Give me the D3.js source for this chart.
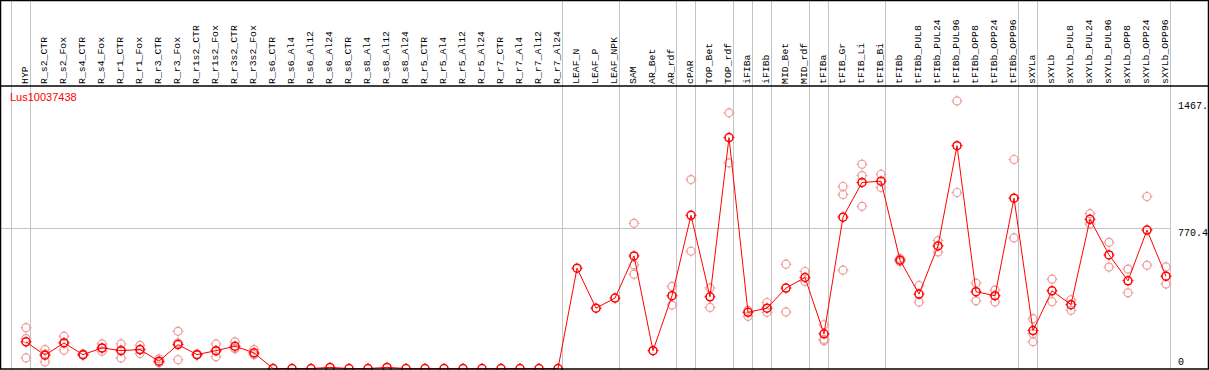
<!DOCTYPE html>
<html>
<head>
<meta charset="utf-8">
<script src="https://cdn.jsdelivr.net/npm/d3@7"></script>
<style>
  body { margin: 0; background: #fff; }
  svg { display: block; }
</style>
</head>
<body>
<div class="box"></div>
<script>
// sample names along the top
const samples = ["HYP", "R_s2_CTR", "R_s2_Fox", "R_s4_CTR", "R_s4_Fox", "R_r1_CTR", "R_r1_Fox",
  "R_r3_CTR", "R_r3_Fox", "R_r1s2_CTR", "R_r1s2_Fox", "R_r3s2_CTR", "R_r3s2_Fox",
  "R_s6_CTR", "R_s6_Al4", "R_s6_Al12", "R_s6_Al24", "R_s8_CTR", "R_s8_Al4", "R_s8_Al12", "R_s8_Al24",
  "R_r5_CTR", "R_r5_Al4", "R_r5_Al12", "R_r5_Al24", "R_r7_CTR", "R_r7_Al4", "R_r7_Al12", "R_r7_Al24",
  "LEAF_N", "LEAF_P", "LEAF_NPK", "SAM", "AR_Bet", "AR_rdf", "cPAR", "TOP_Bet", "TOP_rdf",
  "iFIBa", "iFIBb", "MID_Bet", "MID_rdf", "tFIBa", "tFIB_Gr", "tFIB_Li", "tFIB_Bi",
  "tFIBb", "tFIBb_PUL8", "tFIBb_PUL24", "tFIBb_PUL96", "tFIBb_OPP8", "tFIBb_OPP24", "tFIBb_OPP96",
  "sXYLa", "sXYLb", "sXYLb_PUL8", "sXYLb_PUL24", "sXYLb_PUL96", "sXYLb_OPP8", "sXYLb_OPP24", "sXYLb_OPP96"];

// mean expression per sample
const means = [146, 73, 140, 76, 113, 98, 104, 40, 131, 76, 98, 122, 86,
  0, 0, 0, 6, 0, 0, 6, 0, 0, 0, 0, 0, 0, 0, 0, 0,
  550, 331, 386, 617, 98, 399, 840, 393, 1266,
  308, 331, 441, 499, 190, 830, 1020, 1027,
  594, 408, 672, 1222, 421, 399, 934,
  208, 426, 350, 818, 623, 481, 759, 506];

// replicate values per sample
const reps = [[224, 164, 58], [104, 36, 79], [177, 100, 143], [80, 73, 75], [135, 95, 110],
  [135, 58, 102], [127, 82, 103], [53, 31, 36], [204, 48, 141], [79, 74, 76], [135, 64, 95],
  [146, 112, 108], [104, 76, 78],
  [], [], [], [], [], [], [], [], [], [], [], [], [], [], [], [],
  [], [], [], [796, 568, 517], [], [450, 348], [1036, 643], [442, 335], [1402, 1127],
  [319, 286], [362, 308], [572, 310], [532, 477], [240, 160, 152], [998, 954, 539],
  [1120, 1058, 889], [1065, 993],
  [603, 585], [455, 364], [701, 639], [1467, 965], [468, 371], [430, 364], [1146, 716],
  [273, 191, 147], [490, 366], [377, 319], [849, 792], [692, 556], [545, 415], [943, 566], [557, 463]];

// group separators come after these sample indexes
const separators = [-1, 0, 28, 31, 34, 35, 37, 38, 39, 41, 42, 45, 52, 53, 60];

const yMax = 1540.8;
const yTicks = [1467, 770.4, 0];
const yTickLabels = ["1467.", "770.4", "0"];
const gridValues = [770.4];
const geneName = "Lus10037438";

const w = 1209;
const h = 370;
const headerH = 86;

const svg = d3.select(".box")
  .append("svg")
  .attr("width", w)
  .attr("height", h);

const xScale = d3.scaleLinear()
  .domain([0, samples.length - 1])
  .range([26, 1166]);

const yScale = d3.scaleLinear()
  .domain([0, yMax])
  .range([368.5, 87.5]);

const plotRight = xScale(samples.length - 1) + 4.5;

// vertical group lines, they run through the header too
svg.selectAll(".sep")
  .data(separators)
  .enter()
  .append("line")
  .attr("x1", d => Math.round(xScale(d) + 4) + 0.5)
  .attr("x2", d => Math.round(xScale(d) + 4) + 0.5)
  .attr("y1", 0)
  .attr("y2", h)
  .style("stroke", "#c4c4c4")
  .style("stroke-width", 1);

// horizontal grid
svg.selectAll(".grid")
  .data(gridValues)
  .enter()
  .append("line")
  .attr("x1", 1)
  .attr("x2", plotRight)
  .attr("y1", d => Math.round(yScale(d)) + 0.5)
  .attr("y2", d => Math.round(yScale(d)) + 0.5)
  .style("stroke", "#c4c4c4")
  .style("stroke-width", 1);

// sample labels, rotated
svg.selectAll(".lab")
  .data(samples)
  .enter()
  .append("text")
  .attr("transform", (d, i) => "translate(" + Math.round(xScale(i) + 2) + "," + (headerH - 2) + ") rotate(-90)")
  .style("font-family", "Liberation Mono")
  .style("font-size", "9.8px")
  .style("fill", "#000")
  .text(d => d);

// y labels on the right
svg.selectAll(".ylab")
  .data(yTicks)
  .enter()
  .append("text")
  .attr("x", 1178)
  .attr("y", d => Math.min(yScale(d) + 8, h - 5))
  .style("font-family", "Liberation Mono")
  .style("font-size", "10px")
  .style("fill", "#000")
  .text((d, i) => yTickLabels[i]);

// marker: circle with small nubs
function marker(g, x, y, color, sw) {
  const r = 4;
  g.append("circle")
    .attr("cx", x).attr("cy", y).attr("r", r)
    .style("fill", "none")
    .style("stroke", color)
    .style("stroke-width", sw);
  [[0, -1], [0, 1], [-1, 0], [1, 0]].forEach(function(v) {
    g.append("line")
      .attr("x1", x + v[0] * (r - 0.5)).attr("y1", y + v[1] * (r - 0.5))
      .attr("x2", x + v[0] * (r + 1.5)).attr("y2", y + v[1] * (r + 1.5))
      .style("stroke", color)
      .style("stroke-width", 1);
  });
}

// replicates
const repG = svg.append("g");
reps.forEach(function(list, i) {
  list.forEach(function(v) {
    marker(repG, xScale(i), yScale(v), "#ef9a9a", 1.2);
  });
});

// mean line
const line = d3.line()
  .x((d, i) => xScale(i))
  .y(d => yScale(d));

svg.append("path")
  .datum(means)
  .attr("d", line)
  .style("fill", "none")
  .style("stroke", "#ff0000")
  .style("stroke-width", 1);

const meanG = svg.append("g");
means.forEach(function(v, i) {
  marker(meanG, xScale(i), yScale(v), "#ff0000", 1.5);
});

// gene name
svg.append("text")
  .attr("x", 10)
  .attr("y", 101)
  .style("font-family", "Liberation Sans")
  .style("font-size", "11px")
  .style("fill", "#ff0000")
  .text(geneName);

// borders
svg.append("rect")
  .attr("x", 0.5).attr("y", 0.5)
  .attr("width", w - 1).attr("height", h - 1.5)
  .style("fill", "none")
  .style("stroke", "#000")
  .style("stroke-width", 1.5);

svg.append("line")
  .attr("x1", 0).attr("x2", w)
  .attr("y1", headerH).attr("y2", headerH)
  .style("stroke", "#000")
  .style("stroke-width", 1.5);
</script>
</body>
</html>
